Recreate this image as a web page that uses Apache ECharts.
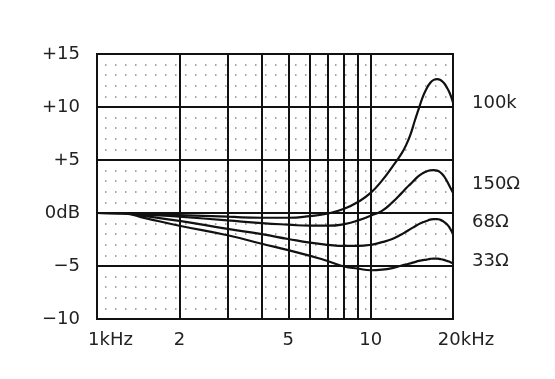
<!DOCTYPE html>
<html>
<head>
<meta charset="utf-8">
<script src="https://cdn.jsdelivr.net/npm/echarts@6/dist/echarts.min.js"></script>
<style>
html,body{margin:0;padding:0;background:#fff;}
#c{width:555px;height:379px;}
</style>
</head>
<body>
<div id="c"></div>
<script>
// Frequencies in kHz
const freqs = [1, 1.25, 1.5, 2, 3, 4, 5, 6, 7, 8, 9, 10, 11, 12, 13, 13.5, 14, 14.5, 15, 15.5, 16, 16.5, 17, 17.5, 18, 18.5, 19, 19.5, 20];
// Response in dB
const r100k = [0, -0.02, -0.1, -0.2, -0.35, -0.45, -0.45, -0.3, -0.05, 0.4, 1.05, 1.9, 3.05, 4.35, 5.65, 6.45, 7.45, 8.7, 9.85, 10.94, 11.72, 12.27, 12.56, 12.63, 12.55, 12.28, 11.83, 11.25, 10.44];
const r150 = [0, -0.02, -0.15, -0.35, -0.7, -0.95, -1.1, -1.2, -1.2, -1.05, -0.7, -0.25, 0.2, 1.0, 1.9, 2.35, 2.75, 3.15, 3.5, 3.75, 3.92, 4.02, 4.05, 4.0, 3.82, 3.5, 3.02, 2.45, 1.9];
const r68 = [0, -0.03, -0.3, -0.75, -1.5, -2.0, -2.45, -2.8, -3.0, -3.1, -3.1, -3.0, -2.75, -2.45, -2.0, -1.75, -1.5, -1.27, -1.05, -0.88, -0.75, -0.63, -0.57, -0.57, -0.65, -0.82, -1.07, -1.45, -2.0];
const r33 = [0, -0.04, -0.48, -1.2, -2.1, -2.9, -3.5, -4.05, -4.55, -5.05, -5.25, -5.4, -5.35, -5.2, -4.95, -4.85, -4.75, -4.63, -4.52, -4.45, -4.4, -4.33, -4.3, -4.3, -4.35, -4.42, -4.52, -4.62, -4.75];
const seriesNames = ['100k', '150Ω', '68Ω', '33Ω'];
// Axis ticks
const xGridValues = [1, 2, 3, 4, 5, 6, 7, 8, 9, 10, 20];
const xTickValues = [1, 2, 5, 10, 20];
const xTickLabels = ['1kHz', '2', '5', '10', '20kHz'];
const yTickValues = [-10, -5, 0, 5, 10, 15];
const yTickLabels = ['−10', '−5', '0dB', '+5', '+10', '+15'];

const FONT = 'DejaVu Sans';
const INK = '#111';
const TXT = '#222';

function pairs(vals) { return freqs.map((f, i) => [f, vals[i]]); }
const allVals = [r100k, r150, r68, r33];
const labelOffsets = [[0, 1], [0, -9], [0, -12], [0, -2]];

const chart = echarts.init(document.getElementById('c'), null, {renderer: 'canvas'});
chart.setOption({
  animation: false,
  backgroundColor: '#fff',
  grid: {left: 97, right: 102, top: 54, bottom: 60, show: true, borderColor: INK, borderWidth: 2, backgroundColor: 'transparent'},
  xAxis: {
    type: 'log', logBase: 10, min: 1, max: 20,
    axisLine: {show: true, lineStyle: {color: INK, width: 2}},
    axisTick: {show: false, customValues: xGridValues},
    splitLine: {show: true, lineStyle: {color: INK, width: 2}},
    minorTick: {show: false},
    axisLabel: {
      customValues: xTickValues,
      margin: 12,
      fontFamily: FONT, fontSize: 18, color: TXT,
      formatter: function (v) {
        let idx = -1;
        for (let i = 0; i < xTickValues.length; i++) if (Math.abs(xTickValues[i] - v) < 1e-6 * xTickValues[i]) idx = i;
        if (idx < 0) return '';
        const t = xTickLabels[idx];
        if (idx === 0) return '{a|' + t + '}';
        if (idx === xTickLabels.length - 1) return '{b|' + t + '}';
        return t;
      },
      rich: {
        a: {fontFamily: FONT, fontSize: 18, color: TXT, padding: [0, 0, 0, 27]},
        b: {fontFamily: FONT, fontSize: 18, color: TXT, padding: [0, 0, 0, 26]}
      }
    }
  },
  yAxis: {
    type: 'value', min: -10, max: 15, interval: 5,
    axisLine: {show: true, lineStyle: {color: INK, width: 2}},
    axisTick: {show: false},
    splitLine: {show: true, lineStyle: {color: INK, width: 2}},
    minorTick: {show: false, splitNumber: 5},
    minorSplitLine: {show: true, lineStyle: {color: '#8a8a8a', width: 1.5, type: [1.5, 8.5], dashOffset: -8}},
    axisLabel: {
      margin: 17,
      fontFamily: FONT, fontSize: 18, color: TXT,
      formatter: function (v) {
        const idx = yTickValues.indexOf(Math.round(v));
        return idx >= 0 ? yTickLabels[idx] : '';
      }
    }
  },
  series: allVals.map((vals, i) => ({
    name: seriesNames[i],
    type: 'line',
    data: pairs(vals),
    smooth: 0.5,
    showSymbol: false,
    symbol: 'none',
    lineStyle: {color: INK, width: 2.2},
    endLabel: {
      show: true,
      formatter: '{a}',
      distance: 19,
      offset: labelOffsets[i],
      fontFamily: FONT, fontSize: 18, color: TXT
    }
  }))
});
</script>
</body>
</html>
